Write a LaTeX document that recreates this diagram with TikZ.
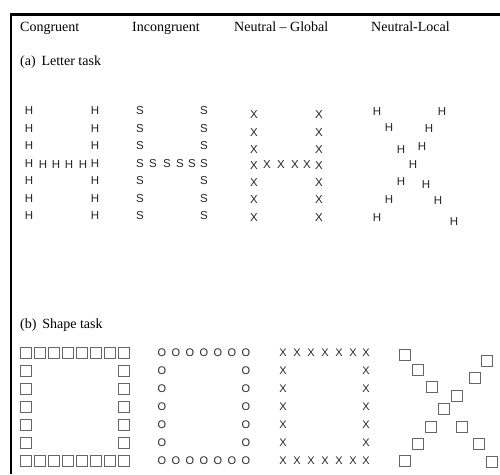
\documentclass[tikz,border=0pt]{standalone}
\usepackage{fontspec}
\setmainfont{Liberation Serif}
\setsansfont{Liberation Sans}
\begin{document}
\begin{tikzpicture}[x=1pt,y=-1pt,
  lbl/.style={font=\fontsize{14}{16}\selectfont, anchor=base west, inner sep=0pt},
  glyph/.style={font=\sffamily\fontsize{11.5}{12}\selectfont, text=black!85, inner sep=0pt},
  sglyph/.style={font=\sffamily\fontsize{11}{12}\selectfont, text=black!85, inner sep=0pt},
  sq/.style={draw=black!60, line width=1pt, minimum size=10.5pt, inner sep=0pt},
  frame/.style={line width=2.2pt, black}]
\useasboundingbox (0,0) rectangle (500,474);
% frame
\coordinate (ftl) at (11,14.5);
\coordinate (ftr) at (500,14.5);
\coordinate (fbl) at (11,474);
\draw[frame] (ftr) -- (ftl) -- (fbl);
% headers
\node[lbl] (hc) at (20,31) {Congruent};
\node[lbl] (hi) at (132,31) {Incongruent};
\node[lbl] (hg) at (234,31) {Neutral – Global};
\node[lbl] (hl) at (371,31) {Neutral-Local};
\node[lbl] (ta) at (20,65) {(a)\, Letter task};
\node[lbl] (tb) at (20,328) {(b)\, Shape task};
% Congruent H and incongruent S
\foreach \y [count=\i] in {111,128.5,146,163.5,181,198.5,216}{
  \node[glyph] (hl\i) at (29,\y) {H};
  \node[glyph] (hr\i) at (95,\y) {H};
  \node[glyph] (sl\i) at (140,\y) {S};
  \node[glyph] (sr\i) at (204,\y) {S};
}
\foreach \x [count=\i] in {43,56,69,83}{
  \node[glyph] (hm\i) at (\x,165) {H};
}
\foreach \x [count=\i] in {153,167,180,192}{
  \node[glyph] (sm\i) at (\x,164) {S};
}
% Neutral global X
\foreach \y [count=\i] in {115,132.5,150,166,183,200,218}{
  \node[glyph] (xl\i) at (254,\y) {X};
  \node[glyph] (xr\i) at (319,\y) {X};
}
\foreach \x [count=\i] in {267,281,295,307}{
  \node[glyph] (xm\i) at (\x,165) {X};
}
% Neutral local H
\foreach \p [count=\i] in {(377,112),(389,128),(401,150),(413,165),(401,182),(389,200),(377,218),
  (442,112),(429,129),(422,147),(426,185),(438,201),(454,222)}{
  \node[glyph] (nl\i) at \p {H};
}
% Shape task
\foreach \y [count=\i] in {371,389,407,425,443}{
  \node[sq] (ql\i) at (26,\y) {};
  \node[sq] (qr\i) at (124,\y) {};
  \node[sglyph] (ol\i) at (162,\y) {O};
  \node[sglyph] (or\i) at (246,\y) {O};
  \node[sglyph] (yl\i) at (283,\y) {X};
  \node[sglyph] (yr\i) at (366,\y) {X};
}
\foreach \x [count=\i] in {26,40,54,68,82,96,110,124}{
  \node[sq] (qt\i) at (\x,353) {};
  \node[sq] (qb\i) at (\x,461) {};
}
\foreach \x [count=\i] in {162,176,190,204,218,232,246}{
  \node[sglyph] (ot\i) at (\x,353) {O};
  \node[sglyph] (ob\i) at (\x,461) {O};
}
\foreach \x [count=\i] in {283,297,311,325,339,353,366}{
  \node[sglyph] (yt\i) at (\x,353) {X};
  \node[sglyph] (yb\i) at (\x,461) {X};
}
% Neutral local squares
\foreach \p [count=\i] in {(405,355),(418,370),(432,387),(444,409),(431,427),(418,444),(405,461),
  (487,361),(475,378),(457,396),(462,427),(479,444),(492,462)}{
  \node[sq] (nq\i) at \p {};
}
\end{tikzpicture}
\end{document}
